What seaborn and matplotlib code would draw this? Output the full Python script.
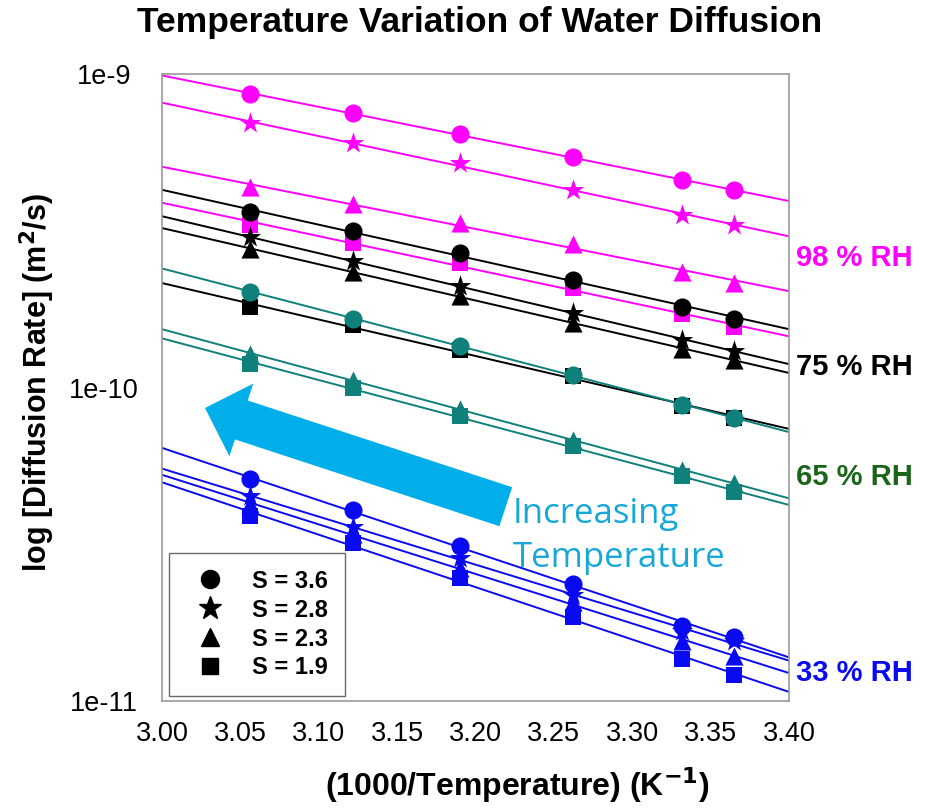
import numpy as np
import pandas as pd
import matplotlib
matplotlib.use('Agg')
import matplotlib.pyplot as plt
from matplotlib.patches import FancyArrow
from matplotlib.lines import Line2D
import seaborn as sns

# 1000/T positions of the measurements
inv_T = [3.056, 3.122, 3.190, 3.262, 3.332, 3.365]

# 98 % RH
rh98_s36 = [8.63e-10, 7.50e-10, 6.43e-10, 5.42e-10, 4.58e-10, 4.26e-10]
rh98_s28 = [6.97e-10, 6.01e-10, 5.19e-10, 4.28e-10, 3.56e-10, 3.29e-10]
rh98_s23 = [4.35e-10, 3.84e-10, 3.36e-10, 2.86e-10, 2.34e-10, 2.16e-10]
rh98_s19 = [3.31e-10, 2.90e-10, 2.49e-10, 2.08e-10, 1.71e-10, 1.56e-10]
# 75 % RH
rh75_s36 = [3.62e-10, 3.15e-10, 2.69e-10, 2.21e-10, 1.81e-10, 1.66e-10]
rh75_s28 = [3.01e-10, 2.54e-10, 2.10e-10, 1.73e-10, 1.42e-10, 1.31e-10]
rh75_s23 = [2.77e-10, 2.33e-10, 1.96e-10, 1.61e-10, 1.33e-10, 1.22e-10]
rh75_s19 = [1.80e-10, 1.58e-10, 1.32e-10, 1.09e-10, 8.73e-11, 8.00e-11]
# 65 % RH
rh65_s36 = [2.02e-10, 1.66e-10, 1.36e-10, 1.10e-10, 8.79e-11, 8.00e-11]
rh65_s23 = [1.28e-10, 1.06e-10, 8.53e-11, 6.79e-11, 5.45e-11, 4.95e-11]
rh65_s19 = [1.19e-10, 9.96e-11, 8.11e-11, 6.50e-11, 5.21e-11, 4.63e-11]
# 33 % RH
rh33_s36 = [5.09e-11, 4.06e-11, 3.13e-11, 2.37e-11, 1.73e-11, 1.60e-11]
rh33_s28 = [4.50e-11, 3.60e-11, 2.85e-11, 2.18e-11, 1.67e-11, 1.55e-11]
rh33_s23 = [4.24e-11, 3.40e-11, 2.65e-11, 2.07e-11, 1.55e-11, 1.39e-11]
rh33_s19 = [3.88e-11, 3.18e-11, 2.46e-11, 1.86e-11, 1.36e-11, 1.21e-11]

s_labels = ['S = 3.6', 'S = 2.8', 'S = 2.3', 'S = 1.9']
rh_labels = ['98 % RH', '75 % RH', '65 % RH', '33 % RH']
x_ticks = [3.00, 3.05, 3.10, 3.15, 3.20, 3.25, 3.30, 3.35, 3.40]
y_ticks = [1e-11, 1e-10, 1e-9]
y_ticklabels = ['1e-11', '1e-10', '1e-9']

sns.set_style('white')
plt.rcParams['font.family'] = ['Liberation Sans', 'DejaVu Sans']
plt.rcParams['text.color'] = 'black'

# long table: one row per point
rows = []
series = [
    ('98', 'S = 3.6', rh98_s36), ('98', 'S = 2.8', rh98_s28),
    ('98', 'S = 2.3', rh98_s23), ('98', 'S = 1.9', rh98_s19),
    ('75', 'S = 3.6', rh75_s36), ('75', 'S = 2.8', rh75_s28),
    ('75', 'S = 2.3', rh75_s23), ('75', 'S = 1.9', rh75_s19),
    ('65', 'S = 3.6', rh65_s36), ('65', 'S = 2.3', rh65_s23),
    ('65', 'S = 1.9', rh65_s19),
    ('33', 'S = 3.6', rh33_s36), ('33', 'S = 2.8', rh33_s28),
    ('33', 'S = 2.3', rh33_s23), ('33', 'S = 1.9', rh33_s19),
]
for rh, s, vals in series:
    for x, v in zip(inv_T, vals):
        rows.append({'invT': x, 'D': v, 'RH': rh, 'S': s})
df = pd.DataFrame(rows)

colors = {'98': '#ff00ff', '75': '#000000', '65': '#0f807a', '33': '#0a0af0'}
label_colors = {'98': '#ff00ff', '75': '#000000', '65': '#1b651b', '33': '#0a0af0'}
markers = {'S = 3.6': 'o', 'S = 2.8': '*', 'S = 2.3': '^', 'S = 1.9': 's'}
msizes = {'S = 3.6': 170, 'S = 2.8': 260, 'S = 2.3': 170, 'S = 1.9': 125}

fig = plt.figure(figsize=(9.39, 8.09), dpi=100)
ax = fig.add_axes([0.1725, 0.1335, 0.6677, 0.775])
ax.set_yscale('log')

xfit = np.array([3.0, 3.4])
for (rh, s), g in df.groupby(['RH', 'S'], sort=False):
    # exponential trend line (straight on the log axis)
    p = np.polyfit(g['invT'], np.log10(g['D']), 1)
    ax.plot(xfit, 10 ** np.polyval(p, xfit), color=colors[rh], lw=1.4, zorder=2)
    sns.scatterplot(data=g, x='invT', y='D', marker=markers[s], s=msizes[s],
                    color=colors[rh], edgecolor=colors[rh], linewidth=0,
                    legend=False, ax=ax, zorder=3)

ax.set_xlim(3.0, 3.4)
ax.set_ylim(1e-11, 1e-9)
ax.set_xticks(x_ticks)
ax.set_xticklabels(['%.2f' % t for t in x_ticks])
ax.set_yticks(y_ticks)
ax.set_yticklabels(y_ticklabels)
ax.yaxis.set_minor_locator(matplotlib.ticker.NullLocator())
ax.tick_params(axis='both', which='major', direction='out', length=3.6,
               width=1, color='#888888', labelsize=19.5, labelcolor='black')
ax.tick_params(axis='x', pad=11)
ax.tick_params(axis='y', pad=38)
for lab in ax.get_yticklabels():
    lab.set_horizontalalignment('center')
ax.set_xlabel('')
ax.set_ylabel('')
for sp in ax.spines.values():
    sp.set_color('#999999')
    sp.set_linewidth(1.2)

# RH labels on the right
rh_y = [0.7065, 0.533, 0.357, 0.0447]
for lab, key, yy in zip(rh_labels, ['98', '75', '65', '33'], rh_y):
    ax.text(1.011, yy, lab, transform=ax.transAxes, color=label_colors[key],
            fontsize=21, fontweight='bold', va='center', ha='left')

# big arrow
ax.add_patch(FancyArrow(0.5483, 0.3099, -0.4797, 0.1574, width=0.0654,
                        head_width=0.122, head_length=0.061,
                        length_includes_head=True, color='#00aeea', lw=0,
                        transform=ax.transAxes, zorder=4))
ax.text(0.5595, 0.326, 'Increasing\nTemperature', transform=ax.transAxes,
        color='#18a8d8', fontsize=25, family=['Open Sans', 'DejaVu Sans'],
        va='top', ha='left', linespacing=1.4, zorder=5)

# legend
handles = [Line2D([], [], marker='o', color='black', ls='None', ms=13),
           Line2D([], [], marker='*', color='black', ls='None', ms=17),
           Line2D([], [], marker='^', color='black', ls='None', ms=13),
           Line2D([], [], marker='s', color='black', ls='None', ms=11)]
leg = ax.legend(handles, s_labels, loc='lower left', bbox_to_anchor=(0.011, 0.008),
                borderaxespad=0, frameon=True, fancybox=False, handlelength=2.1,
                handletextpad=0.72, borderpad=0.7, labelspacing=0.25,
                prop={'size': 17, 'weight': 'bold'})
leg.get_frame().set_edgecolor('#444444')
leg.get_frame().set_linewidth(1)
leg.set_zorder(6)

fig.text(0.5112, 0.9604, 'Temperature Variation of Water Diffusion', ha='center',
         va='baseline', fontsize=25.5, fontweight='bold')
fig.text(0.5506, 0.016, '(1000/Temperature) (K$^{\\mathbf{-1}}$)', ha='center',
         va='baseline', fontsize=23, fontweight='bold')
fig.text(0.0394, 0.527, 'log [Diffusion Rate] (m$^{\\mathbf{2}}$/s)', ha='center',
         va='center', rotation=90, fontsize=22, fontweight='bold')

fig.savefig('out.png', dpi=100)
